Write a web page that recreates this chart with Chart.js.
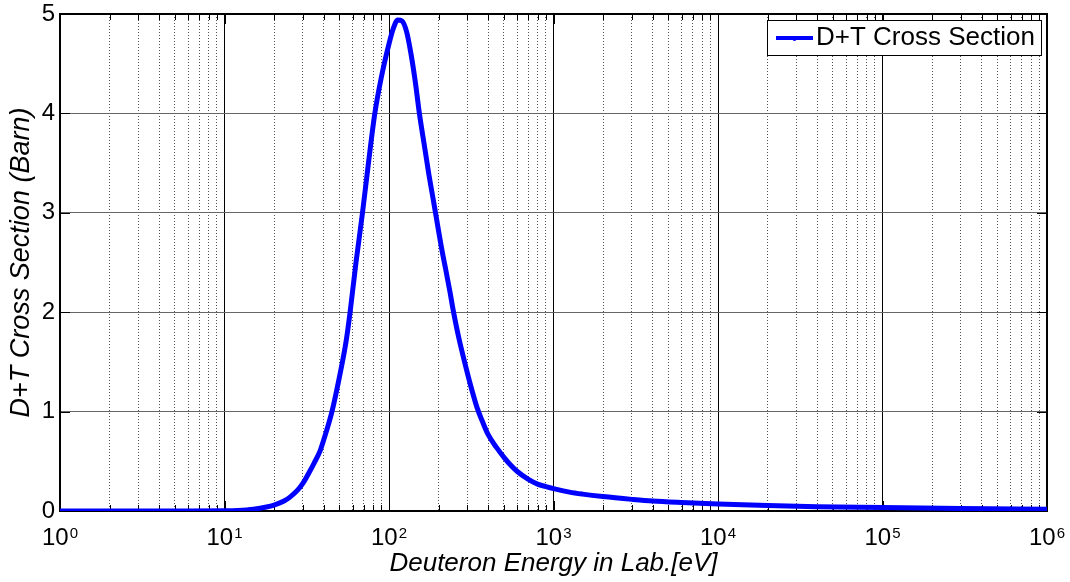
<!DOCTYPE html>
<html><head><meta charset="utf-8">
<script src="https://cdn.jsdelivr.net/npm/chart.js@4.4.1/dist/chart.umd.min.js"></script>
<style>html,body{margin:0;padding:0;background:#fff;}canvas{display:block;}</style>
</head><body>
<canvas id="c" width="1070" height="582"></canvas>
<script>
// ---- data ----
const energies = [1, 2, 5, 10, 12, 15, 18, 20, 23, 25, 28, 30, 33, 35, 38, 40, 45, 50, 55, 58, 63, 69, 75, 82, 90, 100, 106, 113, 120, 128, 136, 145, 153, 165, 175, 185, 194, 210, 220, 235, 245, 265, 290, 315, 343, 370, 400, 450, 500, 550, 600, 700, 800, 900, 1000, 1250, 1500, 2000, 3000, 4000, 6000, 10000, 20000, 40000, 100000, 300000, 1000000];
const crossSection = [0, 0, 0.001, 0.003, 0.006, 0.018, 0.04, 0.06, 0.1, 0.14, 0.215, 0.28, 0.4, 0.48, 0.6, 0.71, 1.0, 1.35, 1.72, 2.0, 2.5, 3.0, 3.5, 4.0, 4.37, 4.7, 4.85, 4.94, 4.93, 4.82, 4.6, 4.3, 4.0, 3.65, 3.38, 3.15, 2.95, 2.62, 2.45, 2.2, 2.03, 1.75, 1.48, 1.25, 1.04, 0.9, 0.77, 0.64, 0.54, 0.46, 0.4, 0.32, 0.27, 0.245, 0.225, 0.19, 0.17, 0.145, 0.117, 0.1, 0.085, 0.07, 0.055, 0.044, 0.034, 0.025, 0.018];
const decadeExponents = [0, 1, 2, 3, 4, 5, 6];
const yTickValues = [0, 1, 2, 3, 4, 5];
const seriesLabel = 'D+T Cross Section';
const xTitle = 'Deuteron Energy in Lab.[eV]';
const yTitle = 'D+T Cross Section (Barn)';

const FONT = '"Liberation Sans", Arial, Helvetica, sans-serif';
const isMajor = v => Math.abs(Math.log10(v) - Math.round(Math.log10(v))) < 1e-9;

const points = energies.map((e, i) => ({x: e, y: crossSection[i]}));

// log grid positions: 1..9 x each decade
function logGridValues() {
  const out = [];
  for (let k = 0; k < decadeExponents.length - 1; k++) {
    for (let m = 1; m <= 9; m++) out.push(m * Math.pow(10, decadeExponents[k]));
  }
  out.push(Math.pow(10, decadeExponents[decadeExponents.length - 1]));
  return out;
}

const frame = {
  id: 'frame',
  beforeDatasetsDraw(chart) {
    const {ctx, chartArea: a, scales: {x, y}} = chart;
    ctx.save();
    ctx.strokeStyle = '#000';
    ctx.lineWidth = 1;
    x.ticks.forEach(t => {
      const px = Math.round(x.getPixelForValue(t.value)) + 0.5;
      const len = isMajor(t.value) ? 10 : 6;
      ctx.beginPath();
      ctx.moveTo(px, a.bottom); ctx.lineTo(px, a.bottom - len);
      ctx.moveTo(px, a.top); ctx.lineTo(px, a.top + len);
      ctx.stroke();
    });
    yTickValues.forEach(v => {
      const py = Math.round(y.getPixelForValue(v)) + 0.5;
      ctx.beginPath();
      ctx.moveTo(a.left, py); ctx.lineTo(a.left + 10, py);
      ctx.moveTo(a.right, py); ctx.lineTo(a.right - 10, py);
      ctx.stroke();
    });
    ctx.lineWidth = 2;
    ctx.strokeRect(a.left, a.top, a.right - a.left, a.bottom - a.top);
    ctx.restore();
  },
  afterDraw(chart) {
    const {ctx, chartArea: a, scales: {x}} = chart;
    ctx.save();
    ctx.fillStyle = '#000';
    ctx.textBaseline = 'alphabetic';
    ctx.textAlign = 'left';
    decadeExponents.forEach(e => {
      const px = x.getPixelForValue(Math.pow(10, e));
      ctx.font = '24px ' + FONT;
      const w1 = ctx.measureText('10').width;
      ctx.font = '15px ' + FONT;
      const w2 = ctx.measureText(String(e)).width;
      const start = px - (w1 + 1 + w2) / 2;
      ctx.font = '24px ' + FONT;
      ctx.fillText('10', start, a.bottom + 34);
      ctx.font = '15px ' + FONT;
      ctx.fillText(String(e), start + w1 + 1, a.bottom + 27);
    });
    // legend box
    const lx = 767, ly = 20, lw = 274, lh = 35;
    ctx.fillStyle = '#fff';
    ctx.fillRect(lx, ly, lw, lh);
    ctx.strokeStyle = '#000';
    ctx.lineWidth = 1;
    ctx.strokeRect(lx + 0.5, ly + 0.5, lw, lh);
    ctx.strokeStyle = '#0000ff';
    ctx.lineWidth = 4;
    ctx.beginPath();
    ctx.moveTo(776, ly + 18); ctx.lineTo(813, ly + 18);
    ctx.stroke();
    ctx.fillStyle = '#0000ff';
    ctx.beginPath(); ctx.arc(794.5, ly + 19, 2, 0, Math.PI * 2); ctx.fill();
    ctx.fillStyle = '#000';
    ctx.font = '26px ' + FONT;
    ctx.textBaseline = 'middle';
    ctx.fillText(chart.data.datasets[0].label, 816, ly + 18);
    ctx.restore();
  }
};

new Chart(document.getElementById('c'), {
  type: 'line',
  data: {
    datasets: [{
      label: seriesLabel,
      data: points,
      borderColor: '#0000ff',
      backgroundColor: '#0000ff',
      borderWidth: 5,
      pointRadius: 0,
      cubicInterpolationMode: 'monotone',
      fill: false
    }]
  },
  options: {
    responsive: false,
    animation: false,
    devicePixelRatio: 1,
    layout: {padding: {left: 0, right: 23, top: 14, bottom: 0}},
    plugins: {legend: {display: false}, tooltip: {enabled: false}},
    scales: {
      x: {
        type: 'logarithmic',
        min: 1, max: 1e6,
        afterBuildTicks: s => { s.ticks = logGridValues().map(v => ({value: v})); },
        afterFit: s => { s.height = 71; s.paddingLeft = 0; s.paddingRight = 0; },
        ticks: {display: false},
        grid: {
          drawTicks: false,
          color: c => (c.tick && isMajor(c.tick.value)) ? '#000' : '#555',
          lineWidth: 1
        },
        border: {display: false, dash: c => (c.tick && isMajor(c.tick.value)) ? [] : [1, 2]},
        title: {display: true, text: xTitle, color: '#000',
          font: {family: FONT, size: 26, style: 'italic'}, padding: {top: 0, bottom: 3}}
      },
      y: {
        min: 0, max: 5,
        afterBuildTicks: s => { s.ticks = yTickValues.map(v => ({value: v})); },
        afterFit: s => { s.width = 60; s.paddingTop = 0; s.paddingBottom = 0; },
        ticks: {color: '#000', padding: 5, font: {family: FONT, size: 24}},
        grid: {drawTicks: false, color: '#666', lineWidth: 1},
        border: {display: false},
        title: {display: true, text: yTitle, color: '#000',
          font: {family: FONT, size: 27, style: 'italic'}, padding: {top: 5, bottom: 0}}
      }
    }
  },
  plugins: [frame]
});
</script>
</body></html>
